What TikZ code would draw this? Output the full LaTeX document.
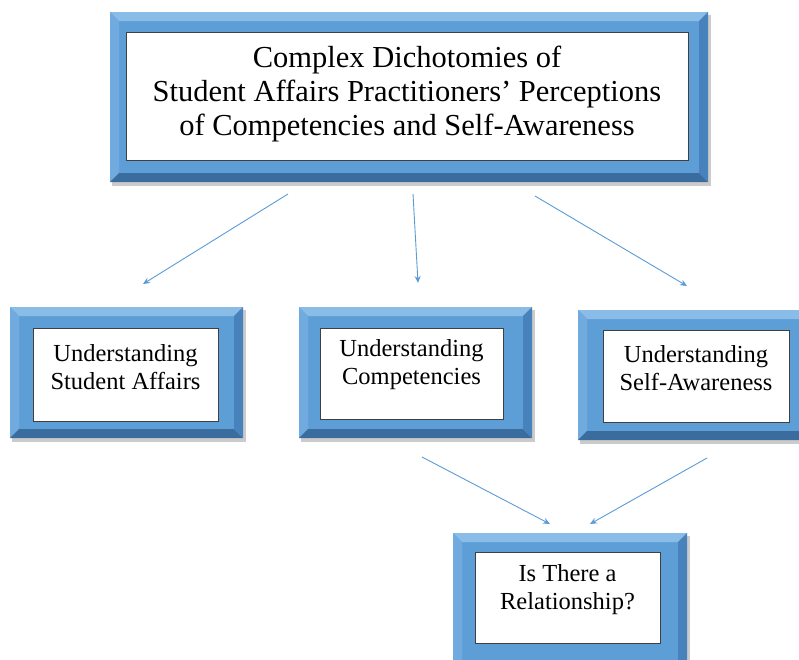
\documentclass[tikz,border=0pt]{standalone}
\usepackage{fontspec}
\setmainfont{Liberation Serif}
\usetikzlibrary{arrows.meta}
\definecolor{bmain}{RGB}{94,158,215}
\definecolor{blight}{RGB}{138,188,232}
\definecolor{bleft}{RGB}{112,170,222}
\definecolor{bdark}{RGB}{58,108,158}
\definecolor{bright}{RGB}{72,130,188}
\definecolor{arr}{RGB}{91,155,213}
\newcommand\bevelframe[4]{%
  \fill[black!45,opacity=.45] (#1+2,#2+3) rectangle (#3+3,#4+4);
  \fill[bmain] (#1,#2) rectangle (#3,#4);
  \fill[blight] (#1,#2) -- (#3,#2) -- (#3-9,#2+9) -- (#1+9,#2+9) -- cycle;
  \fill[bleft] (#1,#2) -- (#1+9,#2+9) -- (#1+9,#4-9) -- (#1,#4) -- cycle;
  \fill[bdark] (#1,#4) -- (#3,#4) -- (#3-9,#4-9) -- (#1+9,#4-9) -- cycle;
  \fill[bright] (#3,#2) -- (#3,#4) -- (#3-9,#4-9) -- (#3-9,#2+9) -- cycle;
}
\tikzset{
  inbox/.style={draw=black!75, line width=0.9pt, fill=white, inner sep=0pt},
  bigtext/.style={align=center, inner sep=0pt, font=\fontsize{30.5}{34}\selectfont},
  smalltext/.style={align=center, inner sep=0pt, font=\fontsize{24.5}{28}\selectfont},
  link/.style={draw=arr, line width=0.9pt, -{Stealth[length=7pt,width=6pt]}}
}
\begin{document}
\begin{tikzpicture}[x=1pt,y=-1pt]
\useasboundingbox (0,0) rectangle (799,659);
% top
\bevelframe{110}{12}{708}{182}
\node[inbox, minimum width=562pt, minimum height=128pt] (topbox) at (407,96) {};
\node[bigtext] (toptext) at (407,94) {Complex Dichotomies of\\Student Affairs Practitioners’ Perceptions\\of Competencies and Self-Awareness};
% box 1
\bevelframe{10}{307}{243}{438}
\node[inbox, minimum width=185pt, minimum height=93pt] (sabox) at (125.5,374.5) {};
\node[smalltext] (satext) at (125.5,367) {Understanding\\Student Affairs};
% box 2
\bevelframe{299}{307}{532}{438}
\node[inbox, minimum width=183pt, minimum height=91pt] (cobox) at (411.5,373.5) {};
\node[smalltext] (cotext) at (411.5,365) {Understanding\\Competencies};
% box 3
\bevelframe{578}{310}{812}{440}
\node[inbox, minimum width=186pt, minimum height=92pt] (swbox) at (696,376) {};
\node[smalltext] (swtext) at (696,368) {Understanding\\Self-Awareness};
% box 4
\bevelframe{453}{533}{687}{672}
\node[inbox, minimum width=185pt, minimum height=91pt] (rebox) at (567.5,597.5) {};
\node[smalltext] (retext) at (567.5,590) {Is There a\\Relationship?};
% arrows
\coordinate (a1s) at (288,194); \coordinate (a1e) at (143,284);
\coordinate (a2s) at (413,194); \coordinate (a2e) at (418,283);
\coordinate (a3s) at (535,196); \coordinate (a3e) at (687,286);
\coordinate (a4s) at (422,457); \coordinate (a4e) at (550,524);
\coordinate (a5s) at (707,458); \coordinate (a5e) at (590,524);
\draw[link] (a1s) -- (a1e);
\draw[link] (a2s) -- (a2e);
\draw[link] (a3s) -- (a3e);
\draw[link] (a4s) -- (a4e);
\draw[link] (a5s) -- (a5e);
\end{tikzpicture}
\end{document}
